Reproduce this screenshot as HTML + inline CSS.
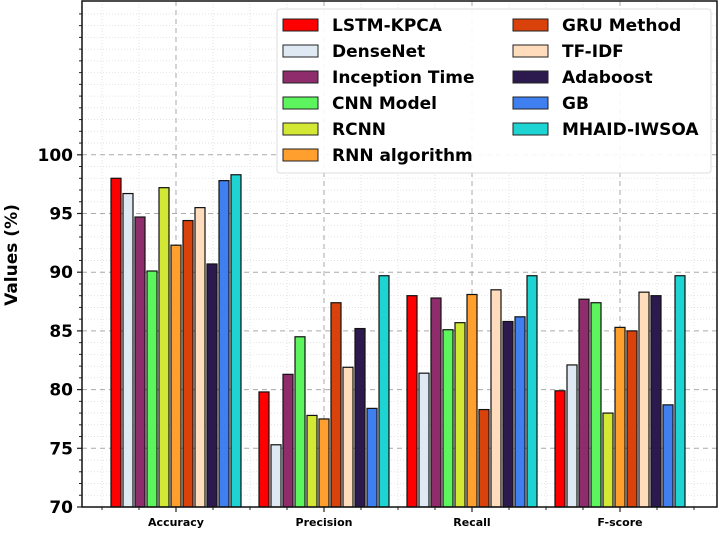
<!DOCTYPE html>
<html><head><meta charset="utf-8"><style>
body{margin:0;background:#fff;}
svg text{font-family:"DejaVu Sans","Liberation Sans",sans-serif;font-weight:bold;}
</style></head><body>
<svg id="chart" width="720" height="530" xmlns="http://www.w3.org/2000/svg"></svg>
<script>
const categories=["Accuracy","Precision","Recall","F-score"];
const seriesNames=["LSTM-KPCA","DenseNet","Inception Time","CNN Model","RCNN","RNN algorithm","GRU Method","TF-IDF","Adaboost","GB","MHAID-IWSOA"];
const seriesColors=["#ff0000","#dfe9f4","#8e2c6c","#5df55d","#d2e835","#ff9f2e","#d9420b","#ffdcbc","#2c1a4e","#3f7ff0","#1ed4d2"];
const lstmKpca=[98.0,79.8,88.0,79.9];
const denseNet=[96.7,75.3,81.4,82.1];
const inceptionTime=[94.7,81.3,87.8,87.7];
const cnnModel=[90.1,84.5,85.1,87.4];
const rcnn=[97.2,77.8,85.7,78.0];
const rnnAlgorithm=[92.3,77.5,88.1,85.3];
const gruMethod=[94.4,87.4,78.3,85.0];
const tfIdf=[95.5,81.9,88.5,88.3];
const adaboost=[90.7,85.2,85.8,88.0];
const gb=[97.8,78.4,86.2,78.7];
const mhaid=[98.3,89.7,89.7,89.7];
const seriesValues=[lstmKpca,denseNet,inceptionTime,cnnModel,rcnn,rnnAlgorithm,gruMethod,tfIdf,adaboost,gb,mhaid];
const yTicks=[70,75,80,85,90,95,100];

const NS="http://www.w3.org/2000/svg";
const svg=document.getElementById('chart');
const L=82,R=717,T=1,B=507;
const yMin=70,yMax=113.1;
function y(v){return B-(v-yMin)/(yMax-yMin)*(B-T);}
function xc(i){return 176+i*148;}
function mk(tag,attrs,parent){const e=document.createElementNS(NS,tag);for(const k in attrs)e.setAttribute(k,attrs[k]);(parent||svg).appendChild(e);return e;}

const grid=mk('g',{});


for(let v=71;v<113;v++){if(v%5===0&&v<=100)continue;
  mk('line',{x1:L,x2:R,y1:y(v),y2:y(v),stroke:'#ddd','stroke-width':0.8,'stroke-dasharray':'1,2'},grid);
  mk('line',{x1:L,x2:L-3,y1:y(v),y2:y(v),stroke:'#222','stroke-width':1},grid);}
for(let k=-2;k<=14;k++){if(k%4===0)continue;const xx=176+k*37;if(xx<=L||xx>=R)continue;
  mk('line',{x1:xx,x2:xx,y1:T,y2:B,stroke:'#ddd','stroke-width':0.8,'stroke-dasharray':'1,2'},grid);
  mk('line',{x1:xx,x2:xx,y1:B,y2:B+3,stroke:'#222','stroke-width':1},grid);}
yTicks.forEach(v=>{mk('line',{x1:L,x2:R,y1:y(v),y2:y(v),stroke:'#aaa','stroke-width':1,'stroke-dasharray':'5,4'},grid);
  mk('line',{x1:L,x2:L-5,y1:y(v),y2:y(v),stroke:'#222','stroke-width':1.2},grid);
  const t=mk('text',{x:L-9,y:y(v)+6,'text-anchor':'end','font-size':17,fill:'#000'});t.textContent=v;
  
  });
categories.forEach((c,i)=>{mk('line',{x1:xc(i),x2:xc(i),y1:T,y2:B,stroke:'#aaa','stroke-width':1,'stroke-dasharray':'5,4'},grid);
  mk('line',{x1:xc(i),x2:xc(i),y1:B,y2:B+5,stroke:'#222','stroke-width':1.2},grid);
  const t=mk('text',{x:xc(i),y:526,'text-anchor':'middle','font-size':11,fill:'#000'});t.textContent=c;
  
  });

const bars=mk('g',{});


const slot=12,bw=10;
seriesValues.forEach((vals,s)=>{vals.forEach((v,i)=>{
  const x0=xc(i)-slot*5.5+s*slot+1;
  const r=mk('rect',{x:x0,y:y(v),width:bw,height:B-y(v),fill:seriesColors[s],stroke:'#111','stroke-width':1.2},bars);
  
  });});

mk('rect',{x:L,y:T,width:R-L,height:B-T,fill:'none',stroke:'#111','stroke-width':1.5});
const yl=mk('text',{x:0,y:0,transform:'translate(17,255) rotate(-90)','text-anchor':'middle','font-size':17,fill:'#000'});
yl.textContent='Values (%)';



const lg=mk('g',{});


mk('rect',{x:277,y:9,width:434,height:164,rx:3,fill:'#fff','fill-opacity':0.9,stroke:'#ddd','stroke-width':1},lg);
seriesNames.forEach((n,s)=>{const col=s<6?0:1,row=s<6?s:s-6;
  const px=col?513:283,ty=25+row*26;
  const e=mk('g',{},lg);
  
  
  mk('rect',{x:px,y:ty-6,width:35,height:12,fill:seriesColors[s],stroke:'#222','stroke-width':1},e);
  const t=mk('text',{x:px+49,y:ty+6,'font-size':17,fill:'#000'},e);t.textContent=n;});
</script>
</body></html>
